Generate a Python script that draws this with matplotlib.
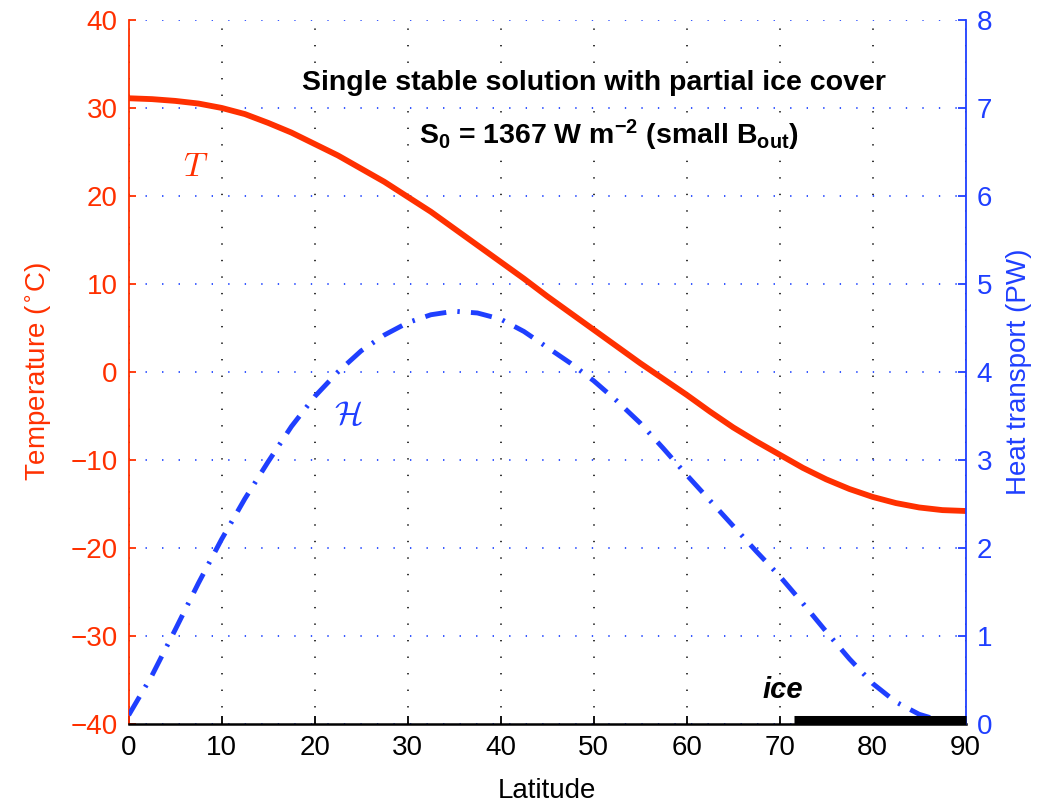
import matplotlib
matplotlib.use("Agg")
import matplotlib.pyplot as plt

plt.rcParams["font.family"] = ["Liberation Sans", "DejaVu Sans"]
plt.rcParams["mathtext.fontset"] = "custom"
plt.rcParams["mathtext.rm"] = "Liberation Sans:bold"
plt.rcParams["mathtext.it"] = "Liberation Sans:bold"
plt.rcParams["mathtext.bf"] = "Liberation Sans:bold"

# data (every 2.5 degrees)
latitude = [0, 2.5, 5, 7.5, 10, 12.5, 15, 17.5, 20, 22.5, 25, 27.5, 30, 32.5, 35, 37.5,
            40, 42.5, 45, 47.5, 50, 52.5, 55, 57.5, 60, 62.5, 65, 67.5, 70, 72.5, 75,
            77.5, 80, 82.5, 85, 87.5, 90]
temperature = [31.1, 31.0, 30.8, 30.5, 30.0, 29.3, 28.3, 27.2, 25.9, 24.6, 23.1, 21.6,
               19.9, 18.2, 16.3, 14.4, 12.5, 10.6, 8.6, 6.7, 4.8, 2.9, 1.0, -0.8,
               -2.6, -4.5, -6.3, -7.9, -9.4, -10.9, -12.2, -13.3, -14.2, -14.9, -15.4,
               -15.7, -15.8]
heat_transport = [0.1, 0.55, 1.07, 1.6, 2.1, 2.56, 2.98, 3.38, 3.72, 4.0, 4.24, 4.42,
                  4.56, 4.65, 4.69, 4.67, 4.6, 4.46, 4.28, 4.1, 3.9, 3.67, 3.42, 3.13,
                  2.83, 2.54, 2.25, 1.96, 1.68, 1.37, 1.05, 0.74, 0.46, 0.25, 0.11, 0.03,
                  0.0]
ice_edge = 71.5

lat_ticks = list(range(0, 91, 10))
temp_ticks = list(range(-40, 41, 10))
pw_ticks = list(range(0, 9))

red = "#ff3000"
blue = "#1f3fff"

fig = plt.figure(figsize=(10.47, 8.07), dpi=100)
ax = fig.add_axes([0.1229, 0.1029, 0.7994, 0.8724])
ax2 = ax.twinx()

ax.plot(latitude, temperature, color=red, lw=4.2, zorder=3)
ax2.plot(latitude, heat_transport, color=blue, lw=3.5,
         linestyle=(0, (4.4, 2.3, 0.5, 2.3)), zorder=3)

# ice cover bar along the bottom
ax2.plot([ice_edge, 90], [0.05, 0.05], color="k", lw=6.5,
         solid_capstyle="butt", clip_on=False, zorder=4)

ax.set_xlim(0, 90)
ax.set_ylim(-40, 40)
ax2.set_ylim(0, 8)
ax.set_xticks(lat_ticks)
ax.set_yticks(temp_ticks)
ax2.set_yticks(pw_ticks)
ax.set_yticklabels([str(t).replace("-", "\u2212") for t in temp_ticks])

ax.grid(axis="x", color="#333333", lw=1.4, linestyle=(0, (0.7, 7.8)))
ax.grid(axis="y", color="#3355ff", lw=1.4, linestyle=(0, (0.7, 7.8)))
ax.set_axisbelow(True)

for a in (ax, ax2):
    a.spines["top"].set_visible(False)
ax.spines["right"].set_visible(False)
ax.spines["left"].set_color(red)
ax.spines["left"].set_linewidth(1.3)
ax.spines["bottom"].set_linewidth(1.8)
ax2.spines["left"].set_visible(False)
ax2.spines["bottom"].set_visible(False)
ax2.spines["right"].set_color(blue)
ax2.spines["right"].set_linewidth(1.3)

ax.tick_params(axis="x", direction="in", length=6, width=1.3, labelsize=20, pad=8)
ax.tick_params(axis="y", direction="in", length=5, width=1.3, colors=red,
               labelsize=20, pad=8)
ax2.tick_params(axis="y", direction="in", length=6, width=1.3, colors=blue,
                labelsize=20, pad=8)

ax.set_xlabel("Latitude", fontsize=20, labelpad=12)
ax.set_ylabel(r"Temperature ($^{\circ}$C)", fontsize=20, color=red, labelpad=12,
              math_fontfamily="dejavusans")
ax2.set_ylabel("Heat transport (PW)", fontsize=20, color=blue, labelpad=10)

box = dict(facecolor="white", edgecolor="none", pad=3)
ax.text(50, 32.8, "Single stable solution with partial ice cover", fontsize=20.5,
        fontweight="bold", ha="center", va="center", bbox=box, zorder=5)
ax.text(51.6, 26.9, r"S$_0$ = 1367 W m$^{-2}$ (small B$_{out}$)", fontsize=20.5,
        fontweight="bold", ha="center", va="center", bbox=box, zorder=5)

ax.text(7.2, 23.2, r"$T$", fontsize=24, color=red, ha="center", va="center",
        math_fontfamily="cm")
ax.text(23.6, -4.9, r"$\mathcal{H}$", fontsize=24, color=blue, ha="center",
        va="center", math_fontfamily="cm")
ax.text(70.3, -36.1, "ice", fontsize=21, fontweight="bold", fontstyle="italic",
        ha="center", va="center")

fig.savefig("out.png", dpi=100)
